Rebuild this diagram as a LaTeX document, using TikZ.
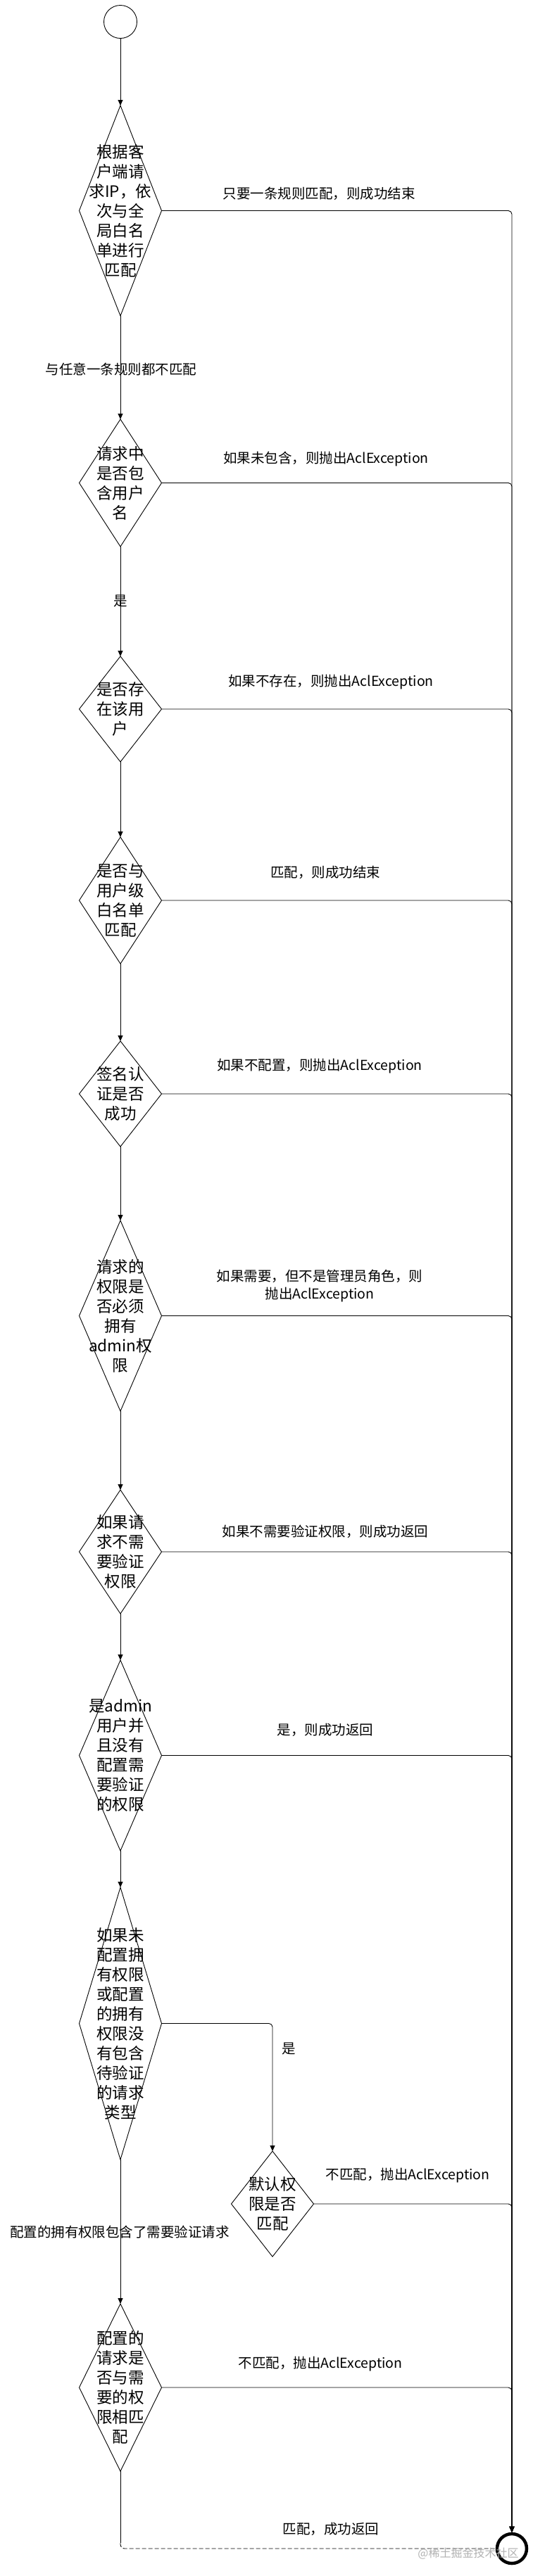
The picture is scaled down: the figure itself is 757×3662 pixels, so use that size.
\documentclass[tikz,border=0pt]{standalone}
\usepackage{fontspec}
\setmainfont{Noto Sans CJK SC}
\usetikzlibrary{shapes.geometric, arrows.meta, positioning}
\tikzstyle{decision} = [draw, diamond, line width=0.9pt, minimum width=117pt, inner sep=0pt, outer sep=0pt]
\tikzstyle{dtext} = [align=center, font=\fontsize{22.5}{28}\selectfont, inner sep=0pt]
\tikzstyle{etiqueta} = [align=center, font=\fontsize{19.5}{25}\selectfont, inner sep=0pt]
\tikzstyle{flow} = [draw, line width=0.9pt, -{Triangle[length=8pt,width=7pt]}]
\tikzstyle{rail} = [flow, rounded corners=5pt]

\begin{document}
\begin{tikzpicture}[x=1pt, y=-1pt]
	\fill[white] (0,0) rectangle (757,3662);
	\useasboundingbox (0,0) rectangle (757,3662);
	% inicio y fin
	\node[draw, circle, line width=0.9pt, minimum size=47pt, inner sep=0pt] (inicio) at (171,31) {};
	\node[draw, circle, line width=4.5pt, minimum size=42pt, inner sep=0pt] (fin) at (727,3623) {};
	% decisiones
	\node[decision, minimum height=299pt] (ip) at (171,299.5) {};
	\node[dtext] (iptxt) at (ip) {根据客\\户端请\\求IP，依\\次与全\\局白名\\单进行\\匹配};
	\node[decision, minimum height=181pt] (usr) at (171,686.5) {};
	\node[dtext] (usrtxt) at (usr) {请求中\\是否包\\含用户\\名};
	\node[decision, minimum height=150pt] (exist) at (171,1008) {};
	\node[dtext] (existtxt) at (exist) {是否存\\在该用\\户};
	\node[decision, minimum height=180pt] (uwl) at (171,1280) {};
	\node[dtext] (uwltxt) at (uwl) {是否与\\用户级\\白名单\\匹配};
	\node[decision, minimum height=150pt] (sign) at (171,1555) {};
	\node[dtext] (signtxt) at (sign) {签名认\\证是否\\成功};
	\node[decision, minimum height=271pt] (adm) at (171,1870.5) {};
	\node[dtext] (admtxt) at (adm) {请求的\\权限是\\否必须\\拥有\\admin权\\限};
	\node[decision, minimum height=176pt] (noval) at (171,2206) {};
	\node[dtext] (novaltxt) at (noval) {如果请\\求不需\\要验证\\权限};
	\node[decision, minimum height=271pt] (isadm) at (171,2495.5) {};
	\node[dtext] (isadmtxt) at (isadm) {是admin\\用户并\\且没有\\配置需\\要验证\\的权限};
	\node[decision, minimum height=387pt] (noperm) at (171,2876.5) {};
	\node[dtext] (nopermtxt) at (noperm) {如果未\\配置拥\\有权限\\或配置\\的拥有\\权限没\\有包含\\待验证\\的请求\\类型};
	\node[decision, minimum height=150pt] (defp) at (387,3133) {};
	\node[dtext] (defptxt) at (defp) {默认权\\限是否\\匹配};
	\node[decision, minimum height=238pt] (pm) at (171,3394) {};
	\node[dtext] (pmtxt) at (pm) {配置的\\请求是\\否与需\\要的权\\限相匹\\配};
	% flujo principal
	\foreach \a/\b in {inicio/ip, ip/usr, usr/exist, exist/uwl, uwl/sign, sign/adm, adm/noval, noval/isadm, isadm/noperm, noperm/pm}
		\draw[flow] (\a) -- (\b);
	\foreach \n in {ip, usr, exist, uwl, sign, adm, noval, isadm, defp, pm}
		\draw[rail] (\n.east) -| (fin.north);
	\draw[rail] (noperm.east) -| (defp.north);
	\coordinate (esq) at (171,3623);
	\draw[line width=0.9pt] (pm) -- ([yshift=8pt]esq);
	\draw[line width=0.9pt, dash pattern=on 6pt off 3pt, rounded corners=6pt] ([yshift=8pt]esq) |- (fin.west);
	% etiquetas
	\node[etiqueta] (l1) at (453,275) {只要一条规则匹配，则成功结束};
	\node[etiqueta] (l2) at (172,525) {与任意一条规则都不匹配};
	\node[etiqueta] (l3) at (463,652) {如果未包含，则抛出AclException};
	\node[etiqueta] (l4) at (171,854) {是};
	\node[etiqueta] (l5) at (470,970) {如果不存在，则抛出AclException};
	\node[etiqueta] (l6) at (462,1240) {匹配，则成功结束};
	\node[etiqueta] (l7) at (454,1516) {如果不配置，则抛出AclException};
	\node[etiqueta] (l8) at (454,1828) {如果需要，但不是管理员角色，则\\抛出AclException};
	\node[etiqueta] (l9) at (462,2177) {如果不需要验证权限，则成功返回};
	\node[etiqueta] (l10) at (462,2459) {是，则成功返回};
	\node[etiqueta] (l11) at (410,2912) {是};
	\node[etiqueta] (l12) at (579,3093) {不匹配，抛出AclException};
	\node[etiqueta] (l13) at (170,3173) {配置的拥有权限包含了需要验证请求};
	\node[etiqueta] (l14) at (455,3360) {不匹配，抛出AclException};
	\node[etiqueta] (l15) at (470,3595) {匹配，成功返回};
	\node[font=\fontsize{16}{16}\selectfont, text=gray!60, inner sep=0pt] (marca) at (665,3630) {@稀土掘金技术社区};
\end{tikzpicture}
\end{document}
